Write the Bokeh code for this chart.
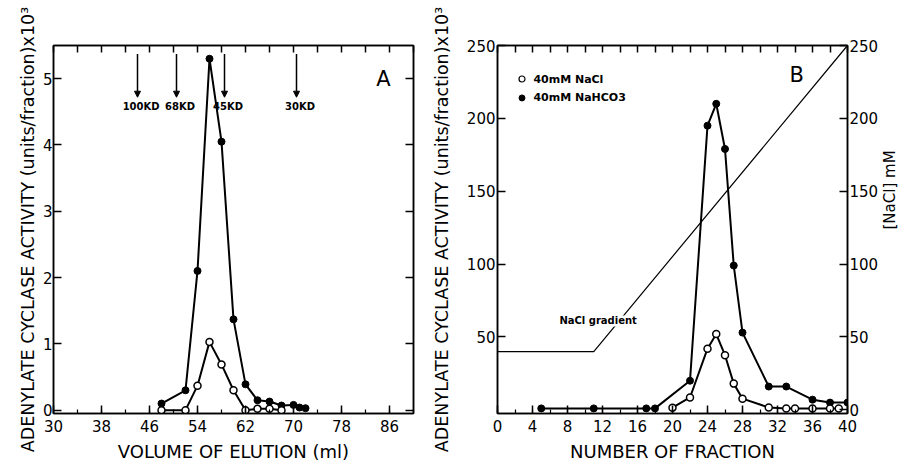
from bokeh.plotting import figure
from bokeh.layouts import row
from bokeh.models import (Range1d, LinearAxis, FixedTicker, Label, Arrow,
                          NormalHead, ColumnDataSource)
from bokeh.embed import file_html
from bokeh.resources import INLINE
from bokeh.core.properties import value

FONT = "DejaVu Sans"

# ---------------- Panel A data ----------------
a_x_ticks = [30, 38, 46, 54, 62, 70, 78, 86]
a_x_minor = [30, 34, 38, 42, 46, 50, 54, 58, 62, 66, 70, 74, 78, 82, 86, 90]
a_y_ticks = [0, 1, 2, 3, 4, 5]
a_nahco3_ml = [48, 52, 54, 56, 58, 60, 62, 64, 66, 68, 70, 71, 72]
a_nahco3_act = [0.10, 0.30, 2.10, 5.30, 4.05, 1.37, 0.39, 0.15, 0.13, 0.07, 0.08, 0.04, 0.03]
a_nacl_ml = [48, 52, 54, 56, 58, 60, 62, 64, 66, 68]
a_nacl_act = [0.0, 0.0, 0.37, 1.03, 0.69, 0.30, 0.0, 0.02, 0.02, 0.0]
a_std_labels = ["100KD", "68KD", "45KD", "30KD"]
a_std_ml = [44, 50.5, 58.5, 70.5]

# ---------------- Panel B data ----------------
b_x_ticks = [0, 4, 8, 12, 16, 20, 24, 28, 32, 36, 40]
b_x_minor = list(range(0, 41, 2))
b_y_left_ticks = [50, 100, 150, 200, 250]
b_y_right_ticks = [0, 50, 100, 150, 200, 250]
b_nahco3_frac = [5, 11, 17, 18, 22, 24, 25, 26, 27, 28, 31, 33, 36, 38, 40]
b_nahco3_act = [1, 1, 1, 1, 20, 195, 210, 179, 99, 53, 16, 16, 7, 5, 5]
b_nacl_frac = [20, 22, 24, 25, 26, 27, 28, 31, 33, 34, 36, 38, 39]
b_nacl_act = [1.5, 8.5, 42, 52, 37.5, 18, 7.7, 1.6, 1, 1, 1, 1, 1]
b_grad_frac = [0, 11, 40]
b_grad_mM = [40, 40, 250]
b_legend_labels = ["40mM NaCl", "40mM NaHCO3"]

YLABEL = "ADENYLATE CYCLASE ACTIVITY (units/fraction)x10\u00b3"


def style_axis(ax, tick_in=8, minor_in=4, labels=True, fs="15px"):
    ax.major_tick_in = tick_in
    ax.major_tick_out = 0
    ax.minor_tick_in = minor_in
    ax.minor_tick_out = 0
    ax.axis_line_width = 1.5
    ax.axis_line_color = "black"
    ax.major_tick_line_width = 1.5
    ax.minor_tick_line_width = 1.2
    ax.major_label_text_font = FONT
    ax.major_label_text_font_size = fs if labels else "6px"
    ax.major_label_text_color = "black" if labels else None
    if not labels:
        ax.major_label_standoff = 0
    ax.axis_label_text_font = FONT
    ax.axis_label_text_font_style = "normal"
    ax.axis_label_text_color = "black"
    ax.axis_label_text_font_size = "18px"


# ================= Panel A =================
pA = figure(width=428, height=466, output_backend="svg", toolbar_location=None,
            x_range=Range1d(30, 90), y_range=Range1d(-0.05, 5.5),
            min_border_left=53, min_border_right=15, min_border_top=45,
            min_border_bottom=53)
pA.xgrid.visible = False
pA.ygrid.visible = False
pA.outline_line_color = "black"
pA.outline_line_width = 1.5

pA.xaxis.ticker = FixedTicker(ticks=a_x_ticks, minor_ticks=a_x_minor)
pA.yaxis.ticker = FixedTicker(ticks=a_y_ticks, minor_ticks=[])
for ax in pA.xaxis:
    style_axis(ax)
    ax.major_label_standoff = 6
    ax.axis_label = "VOLUME OF ELUTION (ml)"
    ax.axis_label_standoff = 6
for ax in pA.yaxis:
    style_axis(ax)
    ax.major_label_standoff = 1
    ax.axis_label = YLABEL
    ax.axis_label_standoff = 2
    ax.axis_label_text_font_size = "17.5px"

topA = LinearAxis(ticker=FixedTicker(ticks=a_x_minor, minor_ticks=[]))
style_axis(topA, tick_in=7, labels=False)
pA.add_layout(topA, "above")
rightA = LinearAxis(ticker=FixedTicker(ticks=a_y_ticks, minor_ticks=[]))
style_axis(rightA, tick_in=8, labels=False)
pA.add_layout(rightA, "right")

pA.line(a_nahco3_ml, a_nahco3_act, line_color="black", line_width=2)
pA.line(a_nacl_ml, a_nacl_act, line_color="black", line_width=2)
pA.scatter(a_nahco3_ml, a_nahco3_act, size=7, marker="circle",
           fill_color="black", line_color="black")
pA.scatter(a_nacl_ml, a_nacl_act, size=7, marker="circle",
           fill_color="white", line_color="black", line_width=1.5)

arrow_src = ColumnDataSource(dict(x0=a_std_ml, x1=a_std_ml,
                                  y0=[5.37] * len(a_std_ml),
                                  y1=[4.72] * len(a_std_ml)))
pA.add_layout(Arrow(source=arrow_src, x_start="x0", y_start="y0",
                    x_end="x1", y_end="y1", line_width=1.5, line_color="black",
                    end=NormalHead(size=6, fill_color="black", line_color="black")))
pA.text(x=[m + 0.6 for m in a_std_ml], y=[4.58] * len(a_std_ml), text=a_std_labels,
        text_font=value(FONT), text_font_style="bold", text_font_size="10px",
        text_align="center", text_baseline="middle", text_color="black")
pA.add_layout(Label(x=85, y=5.0, text="A", text_font=FONT, text_font_size="21px",
                    text_align="center", text_baseline="middle", text_color="black"))

# ================= Panel B =================
pB = figure(width=483, height=466, output_backend="svg", toolbar_location=None,
            x_range=Range1d(0, 40), y_range=Range1d(-2.5, 250),
            min_border_left=67, min_border_right=57, min_border_top=45,
            min_border_bottom=53)
pB.extra_y_ranges = {"mM": Range1d(-2.5, 250)}
pB.xgrid.visible = False
pB.ygrid.visible = False
pB.outline_line_color = "black"
pB.outline_line_width = 1.5

pB.xaxis.ticker = FixedTicker(ticks=b_x_ticks, minor_ticks=b_x_minor)
pB.yaxis.ticker = FixedTicker(ticks=b_y_left_ticks, minor_ticks=[])
for ax in pB.xaxis:
    style_axis(ax)
    ax.major_label_standoff = 6
    ax.axis_label = "NUMBER OF FRACTION"
    ax.axis_label_standoff = 6
for ax in pB.yaxis:
    style_axis(ax)
    ax.major_label_standoff = 2
    ax.axis_label = YLABEL
    ax.axis_label_standoff = 12
    ax.axis_label_text_font_size = "17.5px"

topB = LinearAxis(ticker=FixedTicker(ticks=b_x_minor, minor_ticks=[]))
style_axis(topB, tick_in=7, labels=False)
pB.add_layout(topB, "above")
rightB = LinearAxis(y_range_name="mM",
                    ticker=FixedTicker(ticks=b_y_right_ticks, minor_ticks=[]))
style_axis(rightB, tick_in=8)
rightB.major_label_standoff = 2
rightB.axis_label = "[NaCl]  mM"
rightB.axis_label_standoff = 9
rightB.axis_label_text_font_size = "15px"
try:
    rightB.axis_label_orientation = 1.5708
except Exception:
    pass
pB.add_layout(rightB, "right")

pB.line(b_grad_frac, b_grad_mM, y_range_name="mM", line_color="black", line_width=1.2)
pB.add_layout(Label(x=11.5, y=61, y_range_name="mM", text="NaCl gradient",
                    text_font=FONT, text_font_style="bold", text_font_size="10px",
                    text_align="center", text_baseline="middle", text_color="black",
                    background_fill_color="white"))

pB.line(b_nahco3_frac, b_nahco3_act, line_color="black", line_width=2)
pB.line(b_nacl_frac, b_nacl_act, line_color="black", line_width=2)
pB.scatter(b_nahco3_frac, b_nahco3_act, size=7, marker="circle",
           fill_color="black", line_color="black")
pB.scatter(b_nacl_frac, b_nacl_act, size=7, marker="circle",
           fill_color="white", line_color="black", line_width=1.5)

# legend (manual)
pB.scatter([2.8], [227], size=6, marker="circle", fill_color="white",
           line_color="black", line_width=1.2)
pB.scatter([2.8], [214], size=6, marker="circle", fill_color="black",
           line_color="black")
pB.text(x=[4.1, 4.1], y=[227, 214], text=b_legend_labels,
        text_font=value(FONT), text_font_style="bold", text_font_size="11px",
        text_align="left", text_baseline="middle", text_color="black")
pB.add_layout(Label(x=34.2, y=229.5, text="B", text_font=FONT, text_font_size="21px",
                    text_align="center", text_baseline="middle", text_color="black"))

layout = row(pA, pB)
open("out.html", "w").write(file_html(layout, INLINE))
